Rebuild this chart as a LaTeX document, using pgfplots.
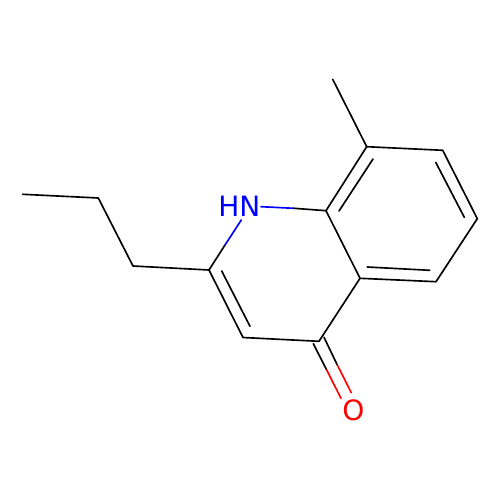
\documentclass[border=0pt]{standalone}
\usepackage{fontspec}
\setmainfont{DejaVu Sans}
\usepackage{pgfplots}
\pgfplotsset{compat=1.18}
\definecolor{nblue}{RGB}{0,0,255}
\definecolor{ored}{RGB}{255,0,0}
\begin{document}
\begin{tikzpicture}[x=1pt,y=1pt]
  \begin{axis}[
    scale only axis,
    width=500pt, height=500pt,
    xmin=0, xmax=500,
    ymin=0, ymax=500,
    y dir=reverse,
    hide axis,
    clip=false,
    every axis plot/.append style={line width=1.65pt, line cap=round, line join=round, no markers},
    ]
    % propyl chain, then C2
    \addplot[black] coordinates {(22.7,194.3) (98.3,198) (133,266) (209,270)};
    % ring bonds
    \addplot[black] coordinates {(209,270) (225,245)};
    \addplot[nblue] coordinates {(225,245) (241.3,220)};
    \addplot[nblue] coordinates {(261,206.7) (294,208.3)};
    \addplot[black] coordinates {(294,208.3) (326,210.7)};
    \addplot[black] coordinates {(209,270) (243,337.5) (319,341.3) (360,278.3)};
    \addplot[black] coordinates {(326,210.7) (366.7,146.7) (442.7,150.3) (477.3,218.7) (436,281.7) (360,278.3) (326,210.7)};
    % methyl
    \addplot[black] coordinates {(332.7,79.3) (366.7,146.7)};
    % inner double bonds
    \addplot[black] coordinates {(221.7,271) (250,326.3)};
    \addplot[black] coordinates {(373,159) (339,211)};
    \addplot[black] coordinates {(435.7,162.3) (464.3,217.3)};
    \addplot[black] coordinates {(429.7,270.3) (367.3,267)};
    % carbonyl
    \addplot[black] coordinates {(313.3,343.7) (326.7,370)};
    \addplot[ored] coordinates {(326.7,370) (341,398.3)};
    \addplot[black] coordinates {(324,337.3) (337.3,365)};
    \addplot[ored] coordinates {(337.3,365) (351.3,392.7)};
    % atom labels
    \node[text=nblue, font=\fontsize{28}{28}\selectfont, inner sep=0pt] at (axis cs:239.3,206.7) {HN};
    \node[text=ored, font=\fontsize{28}{28}\selectfont, inner sep=0pt] at (axis cs:353.3,410) {O};
    \path[use as bounding box] (axis cs:0,0) rectangle (axis cs:500,500);
  \end{axis}
\end{tikzpicture}
\end{document}
